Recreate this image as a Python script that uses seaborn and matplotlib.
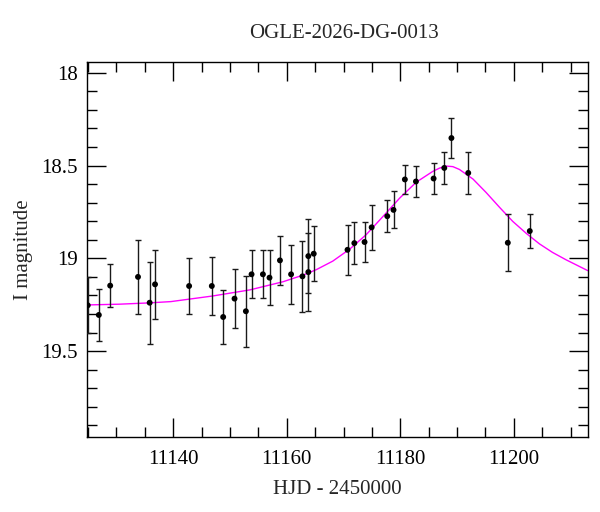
import matplotlib
matplotlib.use("Agg")
import matplotlib.pyplot as plt
import seaborn as sns
import numpy as np
import pandas as pd
from matplotlib.ticker import MultipleLocator, FixedLocator, FixedFormatter

# ---- data ----
hjd = [11124.95, 11126.9, 11128.9, 11133.8, 11135.85, 11136.8, 11142.8, 11146.8,
       11148.8, 11150.8, 11152.8, 11153.8, 11155.8, 11156.96, 11158.8, 11160.76,
       11162.76, 11163.8, 11163.8, 11164.75, 11170.7, 11171.9, 11173.7, 11174.95,
       11177.7, 11178.8, 11180.8, 11182.75, 11185.86, 11187.74, 11189.0, 11191.96,
       11198.93, 11202.8]
mag = [19.253, 19.305, 19.147, 19.10, 19.239, 19.14, 19.149, 19.149,
       19.316, 19.217, 19.285, 19.086, 19.086, 19.104, 19.011, 19.086,
       19.097, 18.988, 19.074, 18.975, 18.954, 18.918, 18.912, 18.833,
       18.773, 18.739, 18.575, 18.586, 18.57, 18.513, 18.352, 18.54,
       18.916, 18.853]
mag_err = [0.15, 0.14, 0.115, 0.20, 0.22, 0.185, 0.152, 0.155,
           0.147, 0.16, 0.19, 0.13, 0.13, 0.15, 0.132, 0.16,
           0.19, 0.20, 0.21, 0.148, 0.134, 0.113, 0.11, 0.12,
           0.086, 0.10, 0.08, 0.082, 0.083, 0.085, 0.106, 0.113,
           0.153, 0.09]

# model curve, points
model_hjd = [11124.9, 11130.5, 11135.8, 11139.6, 11146.9, 11153.5, 11159.35, 11162.9,
             11165.2, 11168.1, 11171.1, 11174.0, 11176.9, 11179.9, 11182.8, 11185.7,
             11186.9, 11188.1, 11189.25, 11190.4, 11192.8, 11195.1, 11197.5, 11199.8,
             11202.2, 11204.5, 11206.8, 11209.2, 11213.0]
model_mag = [19.251, 19.247, 19.240, 19.233, 19.203, 19.170, 19.126, 19.090,
             19.061, 19.015, 18.950, 18.872, 18.776, 18.675, 18.590, 18.532,
             18.514, 18.503, 18.506, 18.521, 18.573, 18.645, 18.726, 18.801,
             18.866, 18.922, 18.968, 19.008, 19.066]

xticks = [11140, 11160, 11180, 11200]
xtick_labels = ["11140", "11160", "11180", "11200"]
yticks = [18.0, 18.5, 19.0, 19.5]
ytick_labels = ["18", "18.5", "19", "19.5"]

title = "OGLE-2026-DG-0013"
xlabel = "HJD - 2450000"
ylabel = "I magnitude"

# ---- plotting ----
sns.set_theme(style="ticks")
plt.rcParams["font.family"] = ["Liberation Serif", "DejaVu Serif"]
plt.rcParams["axes.linewidth"] = 1.0

fig = plt.figure(figsize=(6.0, 5.12), dpi=100)
ax = fig.add_axes([87.3 / 600, 1 - 437.3 / 512, (587.7 - 87.3) / 600, (437.3 - 62.3) / 512])

df_model = pd.DataFrame({"hjd": model_hjd, "mag": model_mag})
df_pts = pd.DataFrame({"hjd": hjd, "mag": mag, "err": mag_err})

sns.lineplot(data=df_model, x="hjd", y="mag", ax=ax, color="#ff00ff", lw=1.0,
             sort=False, estimator=None, zorder=2)
ax.errorbar(df_pts["hjd"], df_pts["mag"], yerr=df_pts["err"], fmt="none",
            ecolor="#1a1a1a", elinewidth=1.0, capsize=2.5, capthick=1.0, zorder=3)
sns.scatterplot(data=df_pts, x="hjd", y="mag", ax=ax, color="black", s=18,
                edgecolor="none", zorder=4)

ax.set_xlim(11124.87, 11213.0)
ax.set_ylim(19.964, 17.944)

ax.xaxis.set_major_locator(FixedLocator(xticks))
ax.xaxis.set_major_formatter(FixedFormatter(xtick_labels))
ax.xaxis.set_minor_locator(MultipleLocator(5))
ax.yaxis.set_major_locator(FixedLocator(yticks))
ax.yaxis.set_major_formatter(FixedFormatter(ytick_labels))
ax.yaxis.set_minor_locator(MultipleLocator(0.1))

ax.tick_params(which="both", direction="in", top=True, right=True,
               colors="black", width=1.0, labelsize=15)
ax.tick_params(which="major", length=13.5)
ax.tick_params(which="minor", length=7)
ax.tick_params(axis="x", which="major", pad=9)
ax.tick_params(axis="y", which="major", pad=7)
for s in ax.spines.values():
    s.set_visible(True)
    s.set_color("black")

ax.set_xlabel(xlabel, fontsize=15, labelpad=8)
ax.set_ylabel(ylabel, fontsize=15, labelpad=6)
fig.text(344 / 600, 1 - 34 / 512, title, ha="center", va="center", fontsize=15)

fig.savefig("out.png", dpi=100)
